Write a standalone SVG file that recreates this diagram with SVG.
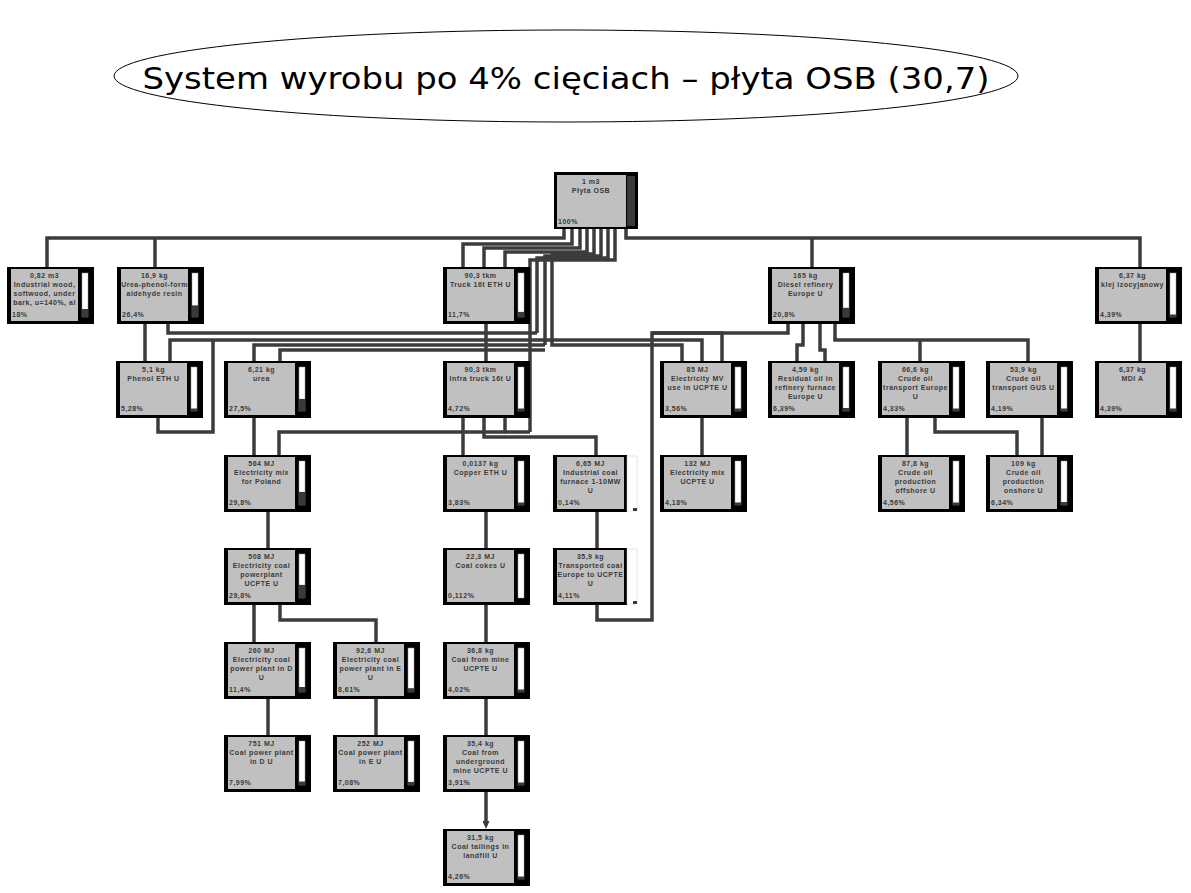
<svg xmlns="http://www.w3.org/2000/svg" width="1191" height="893" viewBox="0 0 1191 893">
<style>
.o{fill:#000}
.g{fill:#c0c0c0}
.b{fill:#fff;stroke:#999;stroke-width:0.5}
.d{fill:#3a3a3a}
.t{font-family:"Liberation Sans",Arial,sans-serif;font-size:7px;font-weight:bold;fill:#3a3a3a;letter-spacing:0.5px}
.c{text-anchor:middle}
.w{fill:none;stroke:#3c3c3c;stroke-width:3.5}
.title{font-family:"DejaVu Sans",Verdana,sans-serif;font-size:31px;fill:#000}
</style>
<defs>
<marker id="ar" markerWidth="8" markerHeight="7" refX="4" refY="3.5" orient="auto" markerUnits="userSpaceOnUse"><path d="M0,0L8,3.5L0,7Z" fill="#3c3c3c"/></marker>
</defs>
<rect width="1191" height="893" fill="#fff"/>
<g id="title">
<ellipse cx="566" cy="76" rx="452" ry="46" fill="none" stroke="#000" stroke-width="1"/>
<text class="title" x="566" y="89" text-anchor="middle" textLength="847" lengthAdjust="spacingAndGlyphs">System wyrobu po 4% cięciach – płyta OSB (30,7)</text>
</g>
<g id="connectors" class="w">
<path d="M564,229V238H47V267"/>
<path d="M155,238V267"/>
<path d="M626,229V238H1140V267"/>
<path d="M812,238V267"/>
<path d="M572,229V244H463V267"/>
<path d="M580,229V248H484V267"/>
<path d="M587,229V252H505V267"/>
<path d="M594,229V254H552V345H682V361"/>
<path d="M601,229V256H545V345"/>
<path d="M608,229V258H537V333"/>
<path d="M615,229V260H530V432"/>
<path d="M145,324V361"/>
<path d="M168,324V333H537"/>
<path d="M170,361V340H702V361"/>
<path d="M254,361V345H545"/>
<path d="M280,361V350H545"/>
<path d="M158,418V432H213V340"/>
<path d="M486,324V361"/>
<path d="M463,418V455"/>
<path d="M484,418V437H596V455"/>
<path d="M505,418V432H530"/>
<path d="M254,418V455"/>
<path d="M279,455V432H505"/>
<path d="M788,324V333H652V620H597V605"/>
<path d="M722,361V333H652"/>
<path d="M803,324V345H797V361"/>
<path d="M820,324V350H825V361"/>
<path d="M835,324V340H1028V361"/>
<path d="M920,340V361"/>
<path d="M702,418V455"/>
<path d="M907,418V455"/>
<path d="M935,418V432H1017V455"/>
<path d="M1042,418V455"/>
<path d="M1140,324V361"/>
<path d="M268,512V548"/>
<path d="M486,512V548"/>
<path d="M597,512V548"/>
<path d="M254,605V642"/>
<path d="M280,605V620H376V642"/>
<path d="M486,605V642"/>
<path d="M268,699V735"/>
<path d="M376,699V735"/>
<path d="M486,699V735"/>
<path d="M486,792V825" marker-end="url(#ar)"/>
</g>
<g id="n0"><rect class="o" x="554" y="172" width="84" height="57"/><rect class="g" x="557" y="175" width="69" height="52"/><rect class="d" x="627" y="176" width="8" height="50"/><text class="t c" x="591" y="184">1 m3</text><text class="t c" x="591" y="193">Płyta OSB</text><text class="t" x="558" y="224">100%</text></g>
<g id="n1"><rect class="o" x="7" y="267" width="87" height="57"/><rect class="g" x="11" y="269" width="67" height="52"/><rect class="b" x="82" y="273" width="6" height="44"/><rect class="d" x="82" y="309" width="6" height="8"/><text class="t c" x="44.5" y="278">0,82 m3</text><text class="t c" x="44.5" y="287">Industrial wood,</text><text class="t c" x="44.5" y="296">softwood, under</text><text class="t c" x="44.5" y="305">bark, u=140%, al</text><text class="t" x="12" y="317">18%</text></g>
<g id="n2"><rect class="o" x="117" y="267" width="87" height="57"/><rect class="g" x="121" y="269" width="67" height="52"/><rect class="b" x="192" y="273" width="6" height="44"/><rect class="d" x="192" y="305.4" width="6" height="11.6"/><text class="t c" x="154.5" y="278">16,9 kg</text><text class="t c" x="154.5" y="287">Urea-phenol-form</text><text class="t c" x="154.5" y="296">aldehyde resin</text><text class="t" x="122" y="317">26,4%</text></g>
<g id="n3"><rect class="o" x="443" y="267" width="87" height="57"/><rect class="g" x="447" y="269" width="67" height="52"/><rect class="b" x="518" y="273" width="6" height="44"/><rect class="d" x="518" y="311.9" width="6" height="5.1"/><text class="t c" x="480.5" y="278">90,3 tkm</text><text class="t c" x="480.5" y="287">Truck 16t ETH U</text><text class="t" x="448" y="317">11,7%</text></g>
<g id="n4"><rect class="o" x="768" y="267" width="87" height="57"/><rect class="g" x="772" y="269" width="67" height="52"/><rect class="b" x="843" y="273" width="6" height="44"/><rect class="d" x="843" y="307.8" width="6" height="9.2"/><text class="t c" x="805.5" y="278">165 kg</text><text class="t c" x="805.5" y="287">Diesel refinery</text><text class="t c" x="805.5" y="296">Europe U</text><text class="t" x="773" y="317">20,8%</text></g>
<g id="n5"><rect class="o" x="1095" y="267" width="87" height="57"/><rect class="g" x="1099" y="269" width="67" height="52"/><rect class="b" x="1170" y="273" width="6" height="44"/><rect class="d" x="1170" y="314.5" width="6" height="2.5"/><text class="t c" x="1132.5" y="278">6,37 kg</text><text class="t c" x="1132.5" y="287">klej izocyjanowy</text><text class="t" x="1100" y="317">4,39%</text></g>
<g id="n6"><rect class="o" x="116" y="361" width="87" height="57"/><rect class="g" x="120" y="363" width="67" height="52"/><rect class="b" x="191" y="367" width="6" height="44"/><rect class="d" x="191" y="408.5" width="6" height="2.5"/><text class="t c" x="153.5" y="372">5,1 kg</text><text class="t c" x="153.5" y="381">Phenol ETH U</text><text class="t" x="121" y="411">5,28%</text></g>
<g id="n7"><rect class="o" x="224" y="361" width="87" height="57"/><rect class="g" x="228" y="363" width="67" height="52"/><rect class="b" x="299" y="367" width="6" height="44"/><rect class="d" x="299" y="398.9" width="6" height="12.1"/><text class="t c" x="261.5" y="372">6,21 kg</text><text class="t c" x="261.5" y="381">urea</text><text class="t" x="229" y="411">27,5%</text></g>
<g id="n8"><rect class="o" x="443" y="361" width="87" height="57"/><rect class="g" x="447" y="363" width="67" height="52"/><rect class="b" x="518" y="367" width="6" height="44"/><rect class="d" x="518" y="408.5" width="6" height="2.5"/><text class="t c" x="480.5" y="372">90,3 tkm</text><text class="t c" x="480.5" y="381">Infra truck 16t U</text><text class="t" x="448" y="411">4,72%</text></g>
<g id="n9"><rect class="o" x="660" y="361" width="87" height="57"/><rect class="g" x="664" y="363" width="67" height="52"/><rect class="b" x="735" y="367" width="6" height="44"/><rect class="d" x="735" y="408.5" width="6" height="2.5"/><text class="t c" x="697.5" y="372">85 MJ</text><text class="t c" x="697.5" y="381">Electricity MV</text><text class="t c" x="697.5" y="390">use in UCPTE U</text><text class="t" x="665" y="411">3,56%</text></g>
<g id="n10"><rect class="o" x="768" y="361" width="87" height="57"/><rect class="g" x="772" y="363" width="67" height="52"/><rect class="b" x="843" y="367" width="6" height="44"/><rect class="d" x="843" y="408" width="6" height="3"/><text class="t c" x="805.5" y="372">4,59 kg</text><text class="t c" x="805.5" y="381">Residual oil in</text><text class="t c" x="805.5" y="390">refinery furnace</text><text class="t c" x="805.5" y="399">Europe U</text><text class="t" x="773" y="411">6,39%</text></g>
<g id="n11"><rect class="o" x="878" y="361" width="87" height="57"/><rect class="g" x="882" y="363" width="67" height="52"/><rect class="b" x="953" y="367" width="6" height="44"/><rect class="d" x="953" y="408.5" width="6" height="2.5"/><text class="t c" x="915.5" y="372">66,6 kg</text><text class="t c" x="915.5" y="381">Crude oil</text><text class="t c" x="915.5" y="390">transport Europe</text><text class="t c" x="915.5" y="399">U</text><text class="t" x="883" y="411">4,33%</text></g>
<g id="n12"><rect class="o" x="986" y="361" width="87" height="57"/><rect class="g" x="990" y="363" width="67" height="52"/><rect class="b" x="1061" y="367" width="6" height="44"/><rect class="d" x="1061" y="408.5" width="6" height="2.5"/><text class="t c" x="1023.5" y="372">53,9 kg</text><text class="t c" x="1023.5" y="381">Crude oil</text><text class="t c" x="1023.5" y="390">transport GUS U</text><text class="t" x="991" y="411">4,19%</text></g>
<g id="n13"><rect class="o" x="1095" y="361" width="87" height="57"/><rect class="g" x="1099" y="363" width="67" height="52"/><rect class="b" x="1170" y="367" width="6" height="44"/><rect class="d" x="1170" y="408.5" width="6" height="2.5"/><text class="t c" x="1132.5" y="372">6,37 kg</text><text class="t c" x="1132.5" y="381">MDI A</text><text class="t" x="1100" y="411">4,39%</text></g>
<g id="n14"><rect class="o" x="224" y="455" width="87" height="57"/><rect class="g" x="228" y="457" width="67" height="52"/><rect class="b" x="299" y="461" width="6" height="44"/><rect class="d" x="299" y="491.9" width="6" height="13.1"/><text class="t c" x="261.5" y="466">564 MJ</text><text class="t c" x="261.5" y="475">Electricity mix</text><text class="t c" x="261.5" y="484">for Poland</text><text class="t" x="229" y="505">29,8%</text></g>
<g id="n15"><rect class="o" x="443" y="455" width="87" height="57"/><rect class="g" x="447" y="457" width="67" height="52"/><rect class="b" x="518" y="461" width="6" height="44"/><rect class="d" x="518" y="502.5" width="6" height="2.5"/><text class="t c" x="480.5" y="466">0,0137 kg</text><text class="t c" x="480.5" y="475">Copper ETH U</text><text class="t" x="448" y="505">3,83%</text></g>
<g id="n16"><rect class="o" x="553" y="455" width="74" height="57"/><rect class="g" x="557" y="457" width="67" height="52"/><rect x="627" y="456" width="10" height="55" fill="#fff" stroke="#ccc" stroke-width="0.5"/><rect class="d" x="633" y="508" width="4" height="3"/><text class="t c" x="590.5" y="466">6,65 MJ</text><text class="t c" x="590.5" y="475">Industrial coal</text><text class="t c" x="590.5" y="484">furnace 1-10MW</text><text class="t c" x="590.5" y="493">U</text><text class="t" x="558" y="505">0,14%</text></g>
<g id="n17"><rect class="o" x="660" y="455" width="87" height="57"/><rect class="g" x="664" y="457" width="67" height="52"/><rect class="b" x="735" y="461" width="6" height="44"/><rect class="d" x="735" y="502.5" width="6" height="2.5"/><text class="t c" x="697.5" y="466">132 MJ</text><text class="t c" x="697.5" y="475">Electricity mix</text><text class="t c" x="697.5" y="484">UCPTE U</text><text class="t" x="665" y="505">4,18%</text></g>
<g id="n18"><rect class="o" x="878" y="455" width="87" height="57"/><rect class="g" x="882" y="457" width="67" height="52"/><rect class="b" x="953" y="461" width="6" height="44"/><rect class="d" x="953" y="502.5" width="6" height="2.5"/><text class="t c" x="915.5" y="466">87,8 kg</text><text class="t c" x="915.5" y="475">Crude oil</text><text class="t c" x="915.5" y="484">production</text><text class="t c" x="915.5" y="493">offshore U</text><text class="t" x="883" y="505">4,56%</text></g>
<g id="n19"><rect class="o" x="986" y="455" width="87" height="57"/><rect class="g" x="990" y="457" width="67" height="52"/><rect class="b" x="1061" y="461" width="6" height="44"/><rect class="d" x="1061" y="502" width="6" height="3"/><text class="t c" x="1023.5" y="466">109 kg</text><text class="t c" x="1023.5" y="475">Crude oil</text><text class="t c" x="1023.5" y="484">production</text><text class="t c" x="1023.5" y="493">onshore U</text><text class="t" x="991" y="505">6,34%</text></g>
<g id="n20"><rect class="o" x="224" y="548" width="87" height="57"/><rect class="g" x="228" y="550" width="67" height="52"/><rect class="b" x="299" y="554" width="6" height="44"/><rect class="d" x="299" y="584.9" width="6" height="13.1"/><text class="t c" x="261.5" y="559">508 MJ</text><text class="t c" x="261.5" y="568">Electricity coal</text><text class="t c" x="261.5" y="577">powerplant</text><text class="t c" x="261.5" y="586">UCPTE U</text><text class="t" x="229" y="598">29,8%</text></g>
<g id="n21"><rect class="o" x="443" y="548" width="87" height="57"/><rect class="g" x="447" y="550" width="67" height="52"/><rect class="b" x="518" y="554" width="6" height="44"/><text class="t c" x="480.5" y="559">22,3 MJ</text><text class="t c" x="480.5" y="568">Coal cokes U</text><text class="t" x="448" y="598">0,112%</text></g>
<g id="n22"><rect class="o" x="553" y="548" width="74" height="57"/><rect class="g" x="557" y="550" width="67" height="52"/><rect x="627" y="549" width="10" height="55" fill="#fff" stroke="#ccc" stroke-width="0.5"/><rect class="d" x="633" y="601" width="4" height="3"/><text class="t c" x="590.5" y="559">35,9 kg</text><text class="t c" x="590.5" y="568">Transported coal</text><text class="t c" x="590.5" y="577">Europe to UCPTE</text><text class="t c" x="590.5" y="586">U</text><text class="t" x="558" y="598">4,11%</text></g>
<g id="n23"><rect class="o" x="224" y="642" width="87" height="57"/><rect class="g" x="228" y="644" width="67" height="52"/><rect class="b" x="299" y="648" width="6" height="44"/><rect class="d" x="299" y="687" width="6" height="5"/><text class="t c" x="261.5" y="653">260 MJ</text><text class="t c" x="261.5" y="662">Electricity coal</text><text class="t c" x="261.5" y="671">power plant in D</text><text class="t c" x="261.5" y="680">U</text><text class="t" x="229" y="692">11,4%</text></g>
<g id="n24"><rect class="o" x="333" y="642" width="87" height="57"/><rect class="g" x="337" y="644" width="67" height="52"/><rect class="b" x="408" y="648" width="6" height="44"/><rect class="d" x="408" y="688.2" width="6" height="3.8"/><text class="t c" x="370.5" y="653">92,6 MJ</text><text class="t c" x="370.5" y="662">Electricity coal</text><text class="t c" x="370.5" y="671">power plant in E</text><text class="t c" x="370.5" y="680">U</text><text class="t" x="338" y="692">8,61%</text></g>
<g id="n25"><rect class="o" x="443" y="642" width="87" height="57"/><rect class="g" x="447" y="644" width="67" height="52"/><rect class="b" x="518" y="648" width="6" height="44"/><rect class="d" x="518" y="689.5" width="6" height="2.5"/><text class="t c" x="480.5" y="653">36,8 kg</text><text class="t c" x="480.5" y="662">Coal from mine</text><text class="t c" x="480.5" y="671">UCPTE U</text><text class="t" x="448" y="692">4,02%</text></g>
<g id="n26"><rect class="o" x="224" y="735" width="87" height="57"/><rect class="g" x="228" y="737" width="67" height="52"/><rect class="b" x="299" y="741" width="6" height="44"/><rect class="d" x="299" y="781.5" width="6" height="3.5"/><text class="t c" x="261.5" y="746">751 MJ</text><text class="t c" x="261.5" y="755">Coal power plant</text><text class="t c" x="261.5" y="764">in D U</text><text class="t" x="229" y="785">7,99%</text></g>
<g id="n27"><rect class="o" x="333" y="735" width="87" height="57"/><rect class="g" x="337" y="737" width="67" height="52"/><rect class="b" x="408" y="741" width="6" height="44"/><rect class="d" x="408" y="781.9" width="6" height="3.1"/><text class="t c" x="370.5" y="746">252 MJ</text><text class="t c" x="370.5" y="755">Coal power plant</text><text class="t c" x="370.5" y="764">in E U</text><text class="t" x="338" y="785">7,08%</text></g>
<g id="n28"><rect class="o" x="443" y="735" width="87" height="57"/><rect class="g" x="447" y="737" width="67" height="52"/><rect class="b" x="518" y="741" width="6" height="44"/><rect class="d" x="518" y="782.5" width="6" height="2.5"/><text class="t c" x="480.5" y="746">35,4 kg</text><text class="t c" x="480.5" y="755">Coal from</text><text class="t c" x="480.5" y="764">underground</text><text class="t c" x="480.5" y="773">mine UCPTE U</text><text class="t" x="448" y="785">3,91%</text></g>
<g id="n29"><rect class="o" x="443" y="829" width="87" height="57"/><rect class="g" x="447" y="831" width="67" height="52"/><rect class="b" x="518" y="835" width="6" height="44"/><rect class="d" x="518" y="876.5" width="6" height="2.5"/><text class="t c" x="480.5" y="840">31,5 kg</text><text class="t c" x="480.5" y="849">Coal tailings in</text><text class="t c" x="480.5" y="858">landfill U</text><text class="t" x="448" y="879">4,26%</text></g>
</svg>
